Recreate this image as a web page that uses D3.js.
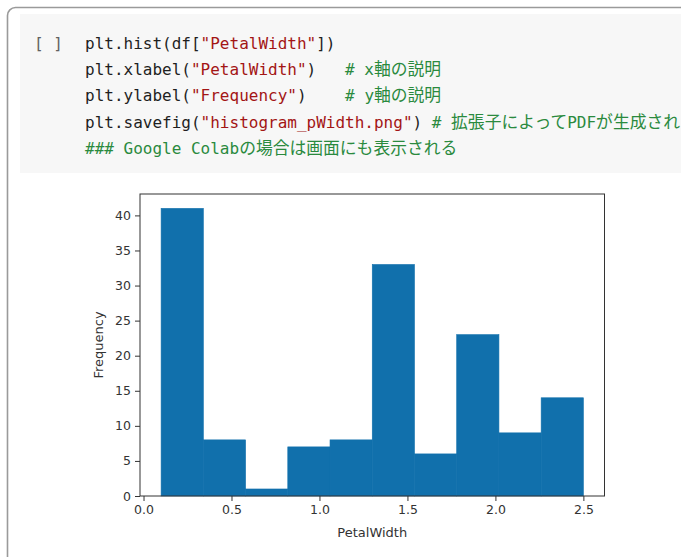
<!DOCTYPE html>
<html><head><meta charset="utf-8">
<script src="https://cdn.jsdelivr.net/npm/d3@7"></script>
<style>
html,body{margin:0;padding:0;background:#fff;overflow:hidden;}
svg{display:block;}
</style></head>
<body>
<svg id="c" width="681" height="557"></svg>
<script>
// ---- data ----
const binEdges = [0.1, 0.34, 0.58, 0.82, 1.06, 1.30, 1.54, 1.78, 2.02, 2.26, 2.50];
const counts   = [41, 8, 1, 7, 8, 33, 6, 23, 9, 14];
const xTicks = [0.0, 0.5, 1.0, 1.5, 2.0, 2.5];
const yTicks = [0, 5, 10, 15, 20, 25, 30, 35, 40];
const xLabel = "PetalWidth";
const yLabel = "Frequency";
const codeLines = [
  [["plt.hist(df[", "k"], ["\"PetalWidth\"", "s"], ["])", "k"]],
  [["plt.xlabel(", "k"], ["\"PetalWidth\"", "s"], [")", "k"], ["   # x軸の説明", "c"]],
  [["plt.ylabel(", "k"], ["\"Frequency\"", "s"], [")", "k"], ["    # y軸の説明", "c"]],
  [["plt.savefig(", "k"], ["\"histogram_pWidth.png\"", "s"], [")", "k"], [" # 拡張子によってPDFが生成される", "c"]],
  [["### Google Colabの場合は画面にも表示される", "c"]]
];
const colors = {k: "#1f1f1f", s: "#a31515", c: "#2a8a3e"};

const svg = d3.select("#c");

// outer cell frame
svg.append("rect").attr("x", 7.5).attr("y", 7.5).attr("width", 700).attr("height", 600)
  .attr("rx", 8).attr("fill", "#fff").attr("stroke", "#9a9a9a").attr("stroke-width", 1.6);
// code background
svg.append("rect").attr("x", 20).attr("y", 14).attr("width", 700).attr("height", 159)
  .attr("fill", "#f7f7f7");

// run button placeholder "[ ]"
svg.append("text").attr("x", 34).attr("y", 49)
  .attr("font-family", "DejaVu Sans Mono, monospace").attr("font-size", 16)
  .attr("fill", "#616161").style("white-space", "pre").text("[ ]");

const cjk = /([\u3000-\u9fff\uff00-\uffef]+)/;
codeLines.forEach((line, i) => {
  const t = svg.append("text").attr("x", 85).attr("y", 49 + i * 26.2)
    .attr("font-family", "DejaVu Sans Mono, Noto Sans CJK JP, monospace")
    .attr("font-size", 16).style("white-space", "pre");
  line.forEach(([txt, c]) => {
    txt.split(cjk).filter(p => p.length).forEach(p => {
      const ts = t.append("tspan").attr("fill", colors[c]).text(p);
      if (cjk.test(p)) ts.attr("font-family", "Noto Sans CJK JP").attr("font-size", 16.8);
    });
  });
});

// ---- chart ----
const L = 140, R = 604.5, T = 194, B = 496;
const x = d3.scaleLinear().domain([-0.02, 2.62]).range([L, R]);
const y = d3.scaleLinear().domain([0, 43.05]).range([B, T]);

const g = svg.append("g");
g.selectAll("rect.bar").data(counts).join("rect").attr("class", "bar")
  .attr("x", (d, i) => x(binEdges[i]))
  .attr("width", (d, i) => x(binEdges[i + 1]) - x(binEdges[i]))
  .attr("y", d => y(d))
  .attr("height", d => B - y(d))
  .attr("fill", "#1170ac")
  .attr("stroke", "#1170ac").attr("stroke-width", 0.6);

const font = "DejaVu Sans, sans-serif";
const xAxis = g.append("g").attr("transform", `translate(0,${B})`)
  .call(d3.axisBottom(x).tickValues(xTicks).tickFormat(d3.format(".1f")).tickSize(5).tickPadding(4));
const yAxis = g.append("g").attr("transform", `translate(${L},0)`)
  .call(d3.axisLeft(y).tickValues(yTicks).tickFormat(d3.format("d")).tickSize(5).tickPadding(4));
[xAxis, yAxis].forEach(a => {
  a.select(".domain").remove();
  a.selectAll("line").attr("stroke", "#333").attr("stroke-width", 1);
  a.selectAll("text").attr("font-family", font).attr("font-size", 12.5).attr("fill", "#333");
});

// spines
g.append("rect").attr("x", L).attr("y", T).attr("width", R - L).attr("height", B - T)
  .attr("fill", "none").attr("stroke", "#333").attr("stroke-width", 1);

g.append("text").attr("x", (L + R) / 2).attr("y", 537).attr("text-anchor", "middle")
  .attr("font-family", font).attr("font-size", 13).attr("fill", "#333").text(xLabel);
g.append("text").attr("transform", `translate(103,${(T + B) / 2}) rotate(-90)`)
  .attr("text-anchor", "middle")
  .attr("font-family", font).attr("font-size", 13).attr("fill", "#333").text(yLabel);
</script>
</body></html>
